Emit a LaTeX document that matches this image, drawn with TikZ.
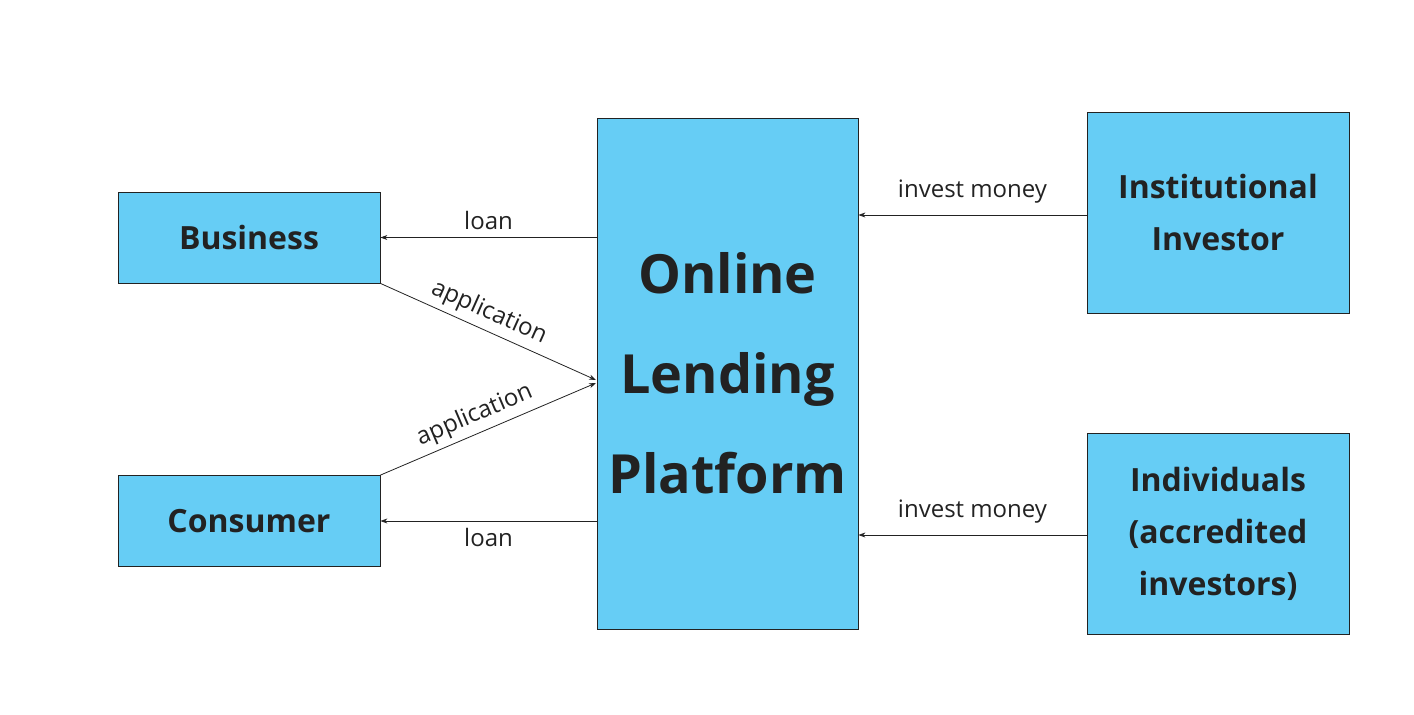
\documentclass[tikz,border=0pt]{standalone}
\usepackage{fontspec}
\setmainfont{Open Sans}
\usepackage{tikz}
\usetikzlibrary{arrows.meta, positioning}
\definecolor{boxblue}{HTML}{66CDF5}
\definecolor{inkgray}{HTML}{222222}
\tikzstyle{party}=[rectangle, draw=inkgray, fill=boxblue, line width=0.8pt, align=center, font=\bfseries\fontsize{32}{46}\selectfont, text=inkgray]
\tikzstyle{lbl}=[font=\fontsize{24}{26}\selectfont, text=inkgray]

\begin{document}
\begin{tikzpicture}[x=1pt, y=-1pt]
\useasboundingbox (0,0) rectangle (1414,715);
\tikzset{>={Stealth[length=7pt, width=5pt]}}
\tikzset{every path/.style={line width=0.8pt, draw=inkgray}}

% boxes
\node[party, minimum width=261pt, minimum height=511pt, font=\bfseries\fontsize{54}{100}\selectfont] (plat) at (727.5,373.5) {Online\\Lending\\Platform};
\node[party, minimum width=262pt, minimum height=91pt] (bus) at (249,237.5) {Business};
\node[party, minimum width=262pt, minimum height=91pt] (con) at (249,521) {Consumer};
\node[party, minimum width=262pt, minimum height=201pt, font=\bfseries\fontsize{32}{52}\selectfont] (inst) at (1218,212.5) {Institutional\\Investor};
\node[party, minimum width=262pt, minimum height=201pt, font=\bfseries\fontsize{32}{52}\selectfont] (indi) at (1218,533.5) {Individuals\\(accredited\\investors)};

\coordinate (inA) at (596,380);
\coordinate (inB) at (596,383);

% arrows
\draw[->] (plat.west |- bus) -- (bus.east) node[lbl, midway, above=4pt] {loan};
\draw[->] (plat.west |- con) -- (con.east) node[lbl, midway, below=4pt] {loan};
\draw[->] (bus.south east) -- (inA) node[lbl, pos=0.47, above=2pt, sloped] {application};
\draw[->] (con.north east) -- (inB) node[lbl, pos=0.47, above=2pt, sloped] {application};
\draw[->] (inst.west |- 0,215) -- (plat.east |- 0,215) node[lbl, midway, above=8pt] {invest money};
\draw[->] (indi.west |- 0,535) -- (plat.east |- 0,535) node[lbl, midway, above=8pt] {invest money};

\end{tikzpicture}
\end{document}
